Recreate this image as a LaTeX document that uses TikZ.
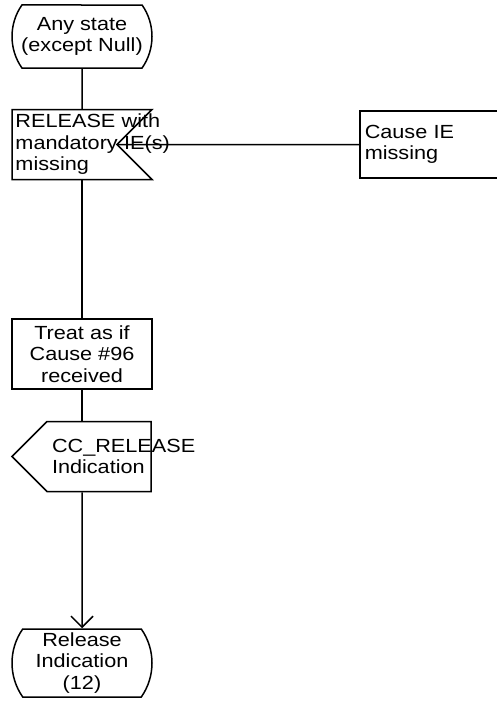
\documentclass[tikz,border=0pt]{standalone}
\usepackage{fontspec}
\setmainfont{Liberation Sans}[FakeStretch=1.14]
\usetikzlibrary{shapes.misc, shapes.symbols, arrows.meta, positioning}
\hyphenpenalty=10000
\tikzstyle{state} = [rounded rectangle, rounded rectangle arc length=70, minimum width=140pt, inner sep=0pt, align=center, draw=black]
\tikzstyle{sigin} = [signal, signal from=east, signal to=nowhere, signal pointer angle=90, minimum height=70pt, inner xsep=3.5pt, inner ysep=0pt, text width=98pt, align=left, draw=black]
\tikzstyle{sigout} = [signal, signal to=west, signal from=nowhere, signal pointer angle=90, minimum height=70pt, inner xsep=5pt, inner ysep=0pt, text width=94pt, align=left, draw=black]
\tikzstyle{task} = [rectangle, minimum width=140pt, minimum height=70pt, inner sep=0pt, align=center, draw=black]
\tikzstyle{note} = [rectangle, minimum height=67pt, inner xsep=5pt, text width=135pt, align=left, draw=black]
\tikzstyle{arrow} = [-{Straight Barb[length=11pt,width=22pt]}]

\begin{document}
\begin{tikzpicture}[line width=1.5pt, font=\fontsize{19}{21.5}\selectfont, node distance=138pt]
\useasboundingbox (0,0) rectangle (497pt,-704pt);
\node (start) [state, minimum height=63pt] at (82pt,-36.5pt) {Any state\\(except Null)};
\node (release) [sigin, below=40pt of start, xshift=-17.5pt] {RELEASE~with\\mandatory~IE(s)\\missing};
\node (cause) [note, right=294.5pt of release.center] {Cause~IE\\missing};
\node (treat) [task, below= of release, xshift=17.5pt] {Treat as if\\Cause \#96\\received};
\node (ccrel) [sigout, below=31pt of treat, xshift=17pt] {CC\_RELEASE\\Indication};
\node (relind) [state, minimum height=68pt, below=136pt of ccrel, xshift=-17pt] {Release\\Indication\\(12)};

\draw (start) -- (start |- release.north);
\draw (release) -- (cause);
\draw (treat |- release.south) -- (treat);
\draw (treat) -- (treat |- ccrel.north);
\draw [arrow] (relind |- ccrel.south) -- (relind);
\end{tikzpicture}
\end{document}
